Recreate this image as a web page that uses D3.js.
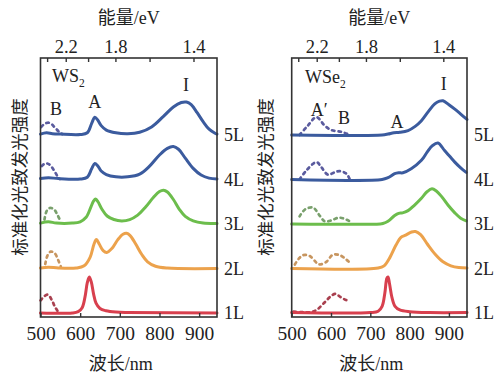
<!DOCTYPE html>
<html>
<head>
<meta charset="utf-8">
<style>
  body { margin: 0; background: #fff; }
  svg text { font-family: "Liberation Serif", "Times New Roman", "Noto Sans CJK SC", serif; fill: #222; }
  svg .cjk { font-family: "Liberation Serif", "Noto Sans CJK SC", serif; }
  svg .frame { fill: none; stroke: #333; stroke-width: 1.6px; }
  svg .tick line { stroke: #333; stroke-width: 1.4px; }
  svg .domain { display: none; }
  svg .solid { fill: none; stroke-width: 3px; stroke-linejoin: round; stroke-linecap: round; }
  svg .dots { fill: none; stroke-width: 2.7px; stroke-dasharray: 2.5 4; stroke-linecap: round; }
</style>
</head>
<body>
<script src="https://d3js.org/d3.v7.min.js"></script>
<script>
// layer names, bottom to top
var layers = ["1L", "2L", "3L", "4L", "5L"];
var wavelengthTicks = [500, 600, 700, 800, 900];
var energyTicks = [2.4, 2.2, 2.0, 1.8, 1.6, 1.4];
var energyLabels = [2.2, 1.8, 1.4];

// WS2 spectra, [wavelength nm, normalised PL]  (solid)
var ws2_1L = [[500,0],[580,0],[595,0.03],[605,0.12],[612,0.35],[618,0.68],[623,0.81],[628,0.7],[634,0.42],[640,0.22],[650,0.1],[665,0.05],[690,0.02],[720,0.01],[945,0]];
var ws2_2L = [[500,0.01],[520,0.03],[545,0.01],[590,0.01],[610,0.06],[625,0.25],[635,0.55],[641,0.65],[648,0.55],[658,0.4],[667,0.36],[680,0.45],[695,0.65],[708,0.77],[717,0.79],[726,0.74],[740,0.55],[755,0.32],[770,0.15],[790,0.05],[820,0.01],[945,0]];
var ws2_3L = [[500,0.02],[520,0.05],[540,0.02],[580,0.02],[600,0.05],[615,0.15],[627,0.38],[634,0.52],[639,0.56],[645,0.5],[655,0.33],[668,0.18],[685,0.1],[705,0.07],[725,0.1],[745,0.2],[765,0.38],[785,0.6],[800,0.73],[810,0.76],[820,0.72],[835,0.55],[850,0.33],[865,0.17],[885,0.07],[910,0.02],[945,0.01]];
var ws2_4L = [[500,0.02],[520,0.04],[545,0.02],[600,0.01],[618,0.05],[629,0.24],[637,0.36],[644,0.31],[653,0.19],[666,0.11],[690,0.06],[720,0.06],[750,0.12],[775,0.3],[800,0.55],[820,0.7],[835,0.74],[848,0.68],[865,0.48],[885,0.25],[905,0.1],[925,0.03],[945,0.01]];
var ws2_5L = [[500,0.02],[515,0.05],[530,0.03],[550,0.02],[600,0.01],[618,0.05],[629,0.26],[637,0.4],[644,0.34],[653,0.21],[666,0.11],[690,0.05],[720,0.03],[750,0.06],[780,0.18],[810,0.42],[835,0.63],[855,0.73],[868,0.74],[880,0.68],[895,0.5],[910,0.3],[925,0.13],[940,0.04],[945,0.02]];
// WS2 B-exciton region, magnified (dotted)
var ws2_1L_B = [[500,0.28],[510,0.38],[519,0.41],[528,0.3],[537,0.13],[545,0.02]];
var ws2_2L_B = [[512,0.1],[518,0.3],[526,0.38],[536,0.34],[545,0.18],[551,0.05]];
var ws2_3L_B = [[510,0.1],[516,0.3],[524,0.36],[534,0.33],[543,0.2],[550,0.07]];
var ws2_4L_B = [[503,0.3],[512,0.36],[522,0.34],[533,0.22],[543,0.07],[549,0.01]];
var ws2_5L_B = [[502,0.18],[512,0.26],[524,0.27],[536,0.17],[548,0.06],[555,0.02]];

// WSe2 spectra (solid)
var wse2_1L = [[500,0.01],[700,0.01],[720,0.04],[730,0.15],[737,0.45],[742,0.78],[745,0.81],[749,0.65],[755,0.35],[763,0.15],[775,0.07],[800,0.03],[850,0.01],[946,0.01]];
var wse2_2L = [[500,0],[720,0.01],[735,0.06],[750,0.25],[765,0.52],[778,0.7],[790,0.75],[805,0.82],[815,0.83],[828,0.76],[845,0.55],[865,0.32],[885,0.15],[905,0.06],[925,0.02],[946,0.01]];
var wse2_3L = [[500,0],[725,0],[732,0.01],[745,0.06],[762,0.19],[772,0.24],[782,0.25],[796,0.3],[812,0.42],[830,0.58],[845,0.73],[857,0.79],[868,0.74],[881,0.62],[898,0.42],[915,0.25],[930,0.13],[944,0.07]];
var wse2_4L = [[500,0],[730,0],[745,0.04],[762,0.13],[772,0.15],[783,0.15],[804,0.24],[830,0.43],[845,0.62],[858,0.76],[872,0.82],[889,0.65],[902,0.52],[915,0.39],[930,0.26],[944,0.16]];
var wse2_5L = [[500,0],[730,0],[745,0.02],[760,0.05],[775,0.06],[796,0.1],[815,0.2],[830,0.32],[848,0.53],[864,0.7],[876,0.76],[885,0.77],[900,0.68],[915,0.58],[930,0.47],[946,0.35]];
// WSe2 A'/B region (dotted)
var wse2_1L_B = [[505,0.03],[530,0.02],[550,0.02],[565,0.08],[585,0.25],[600,0.38],[611,0.43],[624,0.36],[636,0.3],[648,0.27]];
var wse2_2L_B = [[508,0.09],[518,0.22],[529,0.3],[546,0.28],[563,0.13],[571,0.09],[588,0.15],[605,0.31],[622,0.3],[639,0.2],[648,0.13]];
var wse2_3L_B = [[520,0.17],[533,0.32],[554,0.37],[571,0.19],[584,0.06],[601,0.08],[618,0.14],[630,0.13],[648,0.06]];
var wse2_4L_B = [[520,0],[537,0.2],[563,0.39],[575,0.28],[592,0.11],[609,0.16],[622,0.19],[639,0.13],[648,0]];
var wse2_5L_B = [[520,0],[541,0.21],[563,0.4],[584,0.21],[601,0.11],[626,0.07],[643,0.02]];

// peak annotations: [text, wavelength, level]
var ws2Notes = [["B", 539, 4.45], ["A", 637, 4.61], ["I", 867, 4.99]];
var wse2Notes = [["A\u2032", 570, 4.43], ["B", 633, 4.25], ["A", 768, 4.16], ["I", 887, 5.01]];

var solidColors = ["#d8404e", "#eca24c", "#6cbd4c", "#3b5b9e", "#3b5b9e"];
var dotColors   = ["#a9404f", "#c7955f", "#79a06c", "#5a5b9e", "#5a5b9e"];

var svg = d3.select("body").append("svg")
    .attr("width", 495)
    .attr("height", 378);

function drawPanel(opt) {
  var x = d3.scaleLinear().domain([500, opt.xmax]).range([opt.left, opt.right]);
  var y = d3.scaleLinear().domain([-0.09, 5.73]).range([317, 58]);
  var g = svg.append("g");

  var line = d3.line()
      .x(function (d) { return x(d[0]); })
      .y(function (d) { return y(d[1] + d.offset); })
      .curve(d3.curveCatmullRom.alpha(0.5));

  function path(data, offset) {
    var pts = data.map(function (d) { var p = d.slice(); p.offset = offset; return p; });
    return line(pts);
  }

  opt.solid.forEach(function (s, i) {
    g.append("path").attr("class", "dots")
      .attr("d", path(opt.dots[i], i))
      .style("stroke", dotColors[i]);
    g.append("path").attr("class", "solid")
      .attr("d", path(s, i))
      .style("stroke", solidColors[i]);
    g.append("text")
      .attr("x", opt.right + 7)
      .attr("y", y(i))
      .attr("dy", "0.35em")
      .style("font-size", "18px")
      .text(layers[i]);
  });

  g.append("rect").attr("class", "frame")
    .attr("x", opt.left).attr("y", 58)
    .attr("width", opt.right - opt.left).attr("height", 317 - 58);

  // wavelength axis, ticks pointing inward
  g.append("g")
      .attr("transform", "translate(0,317)")
      .call(d3.axisBottom(x).tickValues(wavelengthTicks).tickSizeInner(-4).tickSizeOuter(0).tickPadding(9))
      .selectAll("text").style("font-size", "19.5px").style("fill", "#222").attr("font-family", null);

  // energy axis on top: E = 1240 / lambda
  g.append("g")
      .attr("transform", "translate(0,58)")
      .call(d3.axisTop(x)
        .tickValues(energyTicks.map(function (e) { return 1240 / e; }))
        .tickFormat(function (d) {
          var e = Math.round(1240 / d * 10) / 10;
          return energyLabels.indexOf(e) >= 0 ? e.toFixed(1) : "";
        })
        .tickSizeInner(-4).tickSizeOuter(0).tickPadding(5))
      .selectAll("text").style("font-size", "18.5px").style("fill", "#222").attr("font-family", null);

  var mid = (opt.left + opt.right) / 2;
  g.append("text").attr("class", "cjk")
    .attr("x", mid).attr("y", 24).attr("text-anchor", "middle")
    .style("font-size", "18px").text("能量/eV");
  g.append("text").attr("class", "cjk")
    .attr("x", mid - 8).attr("y", 370).attr("text-anchor", "middle")
    .style("font-size", "18px").text("波长/nm");
  g.append("text").attr("class", "cjk")
    .attr("transform", "translate(" + opt.ylabelX + ",177) rotate(-90)")
    .attr("text-anchor", "middle").attr("dy", "0.35em")
    .style("font-size", "17.5px").text("标准化光致发光强度");

  // sample name with subscript
  var name = g.append("text")
    .attr("x", x(opt.nameAt[0])).attr("y", y(opt.nameAt[1]))
    .style("font-size", "18px");
  name.append("tspan").text(opt.name);
  name.append("tspan").attr("dy", 5).style("font-size", "11.5px").text("2");

  opt.notes.forEach(function (n) {
    g.append("text")
      .attr("x", x(n[1])).attr("y", y(n[2]))
      .attr("text-anchor", "middle")
      .style("font-size", "18px")
      .text(n[0]);
  });
}

drawPanel({
  left: 40.5, right: 217, xmax: 945, ylabelX: 20,
  solid: [ws2_1L, ws2_2L, ws2_3L, ws2_4L, ws2_5L],
  dots: [ws2_1L_B, ws2_2L_B, ws2_3L_B, ws2_4L_B, ws2_5L_B],
  name: "WS", nameAt: [529, 5.19], notes: ws2Notes
});

drawPanel({
  left: 291.7, right: 467, xmax: 946, ylabelX: 266,
  solid: [wse2_1L, wse2_2L, wse2_3L, wse2_4L, wse2_5L],
  dots: [wse2_1L_B, wse2_2L_B, wse2_3L_B, wse2_4L_B, wse2_5L_B],
  name: "WSe", nameAt: [534, 5.17], notes: wse2Notes
});
</script>
</body>
</html>
